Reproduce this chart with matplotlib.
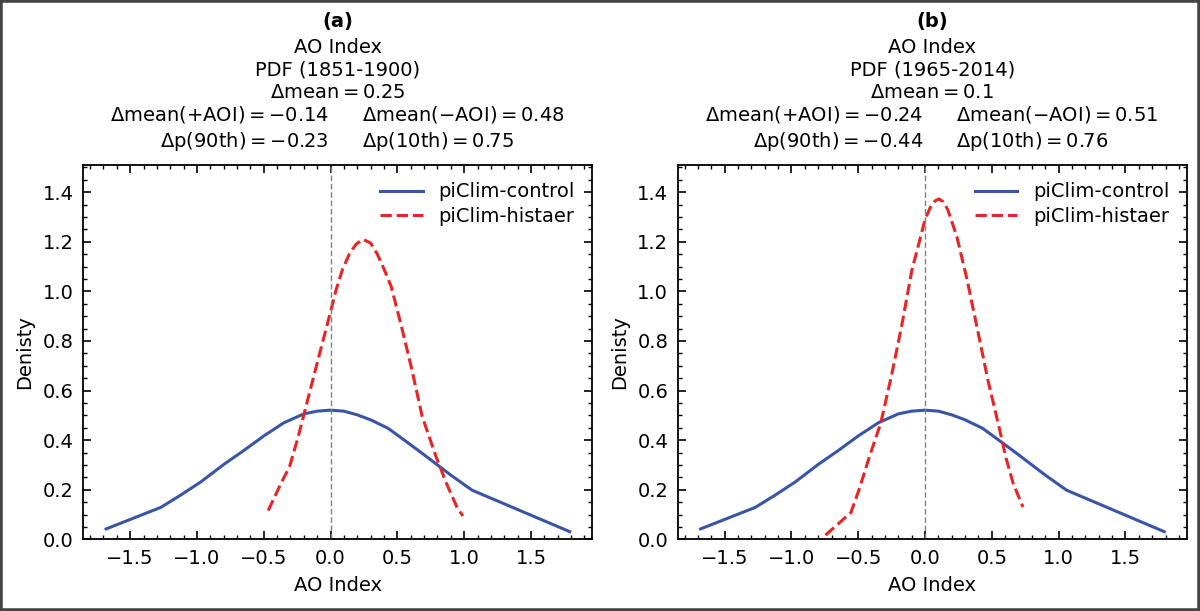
import matplotlib
matplotlib.use("Agg")
import matplotlib.pyplot as plt
from matplotlib.patches import Rectangle
from matplotlib.ticker import MultipleLocator

# ---- data ----
ctrl_x = [-1.68, -1.27, -1.12, -0.97, -0.80, -0.65, -0.50, -0.35, -0.20, -0.10,
          0.00, 0.10, 0.20, 0.30, 0.43, 0.57, 0.70, 0.90, 1.06, 1.79]
ctrl_y = [0.042, 0.129, 0.179, 0.232, 0.302, 0.358, 0.417, 0.470, 0.506, 0.517,
          0.521, 0.517, 0.502, 0.482, 0.448, 0.393, 0.341, 0.259, 0.198, 0.031]

hist_a_x = [-0.467, -0.371, -0.307, -0.242, -0.165, -0.088, 0.000, 0.041, 0.090, 0.140,
            0.190, 0.242, 0.300, 0.350, 0.400, 0.454, 0.531, 0.609, 0.686, 0.789,
            0.867, 0.944, 0.990]
hist_a_y = [0.116, 0.226, 0.293, 0.414, 0.576, 0.737, 0.918, 1.006, 1.090, 1.150,
            1.190, 1.210, 1.195, 1.150, 1.090, 1.019, 0.858, 0.683, 0.495, 0.334,
            0.226, 0.132, 0.094]

hist_b_x = [-0.745, -0.555, -0.495, -0.408, -0.331, -0.253, -0.176, -0.098, -0.046, 0.000,
            0.040, 0.075, 0.103, 0.135, 0.170, 0.238, 0.315, 0.393, 0.470, 0.555,
            0.605, 0.660, 0.733]
hist_b_y = [0.017, 0.108, 0.199, 0.347, 0.470, 0.656, 0.858, 1.087, 1.194, 1.290,
            1.340, 1.365, 1.373, 1.362, 1.330, 1.221, 1.046, 0.845, 0.643, 0.450,
            0.330, 0.225, 0.130]

panel_labels = ["(a)", "(b)"]
periods = ["PDF (1851-1900)", "PDF (1965-2014)"]
dmean = ["0.25", "0.1"]
dmean_pos = ["-0.14", "-0.24"]
dmean_neg = ["0.48", "0.51"]
dp90 = ["-0.23", "-0.44"]
dp10 = ["0.75", "0.76"]
legend_labels = ["piClim-control", "piClim-histaer"]

BLUE = "#3a54a6"
RED = "#e82424"

plt.rcParams["font.family"] = ["DejaVu Sans"]
plt.rcParams["font.size"] = 14
plt.rcParams["mathtext.fontset"] = "dejavusans"

fig = plt.figure(figsize=(12, 6.11), dpi=100)
fig.patch.set_facecolor("white")

axes_left = [0.0695, 0.5649]
hist_x = [hist_a_x, hist_b_x]
hist_y = [hist_a_y, hist_b_y]

for i in range(2):
    ax = fig.add_axes([axes_left[i], 0.1173, 0.4242, 0.6127])
    ax.plot(ctrl_x, ctrl_y, color=BLUE, lw=2.2, label=legend_labels[0])
    ax.plot(hist_x[i], hist_y[i], color=RED, lw=2.2, ls="--", label=legend_labels[1])
    ax.axvline(0, color="gray", lw=1.0, ls="--", dashes=(4, 2))
    ax.set_xlim(-1.85, 1.96)
    ax.set_ylim(0, 1.51)
    ax.xaxis.set_major_locator(MultipleLocator(0.5))
    ax.xaxis.set_minor_locator(MultipleLocator(0.1))
    ax.yaxis.set_major_locator(MultipleLocator(0.2))
    ax.yaxis.set_minor_locator(MultipleLocator(0.05))
    ax.tick_params(which="both", direction="in", top=True, right=True)
    ax.tick_params(which="major", length=6, width=1.2, pad=7)
    ax.tick_params(which="minor", length=3, width=1.0)
    for s in ax.spines.values():
        s.set_linewidth(1.3)
    ax.set_xlabel("AO Index", labelpad=6)
    ax.set_ylabel("Denisty", labelpad=6)
    ax.legend(loc="upper right", frameon=False, handlelength=2.2,
              labelspacing=0.3, borderaxespad=0.5)

    tr = ax.transAxes
    ax.text(0.5, 1.368, panel_labels[i], transform=tr, ha="center", va="baseline",
            fontweight="bold")
    ax.text(0.5, 1.298, "AO Index", transform=tr, ha="center", va="baseline")
    ax.text(0.5, 1.238, periods[i], transform=tr, ha="center", va="baseline")
    ax.text(0.5, 1.178, r"$\Delta$mean$=%s$" % dmean[i], transform=tr,
            ha="center", va="baseline")
    ax.text(0.482, 1.118, r"$\Delta$mean(+AOI)$=%s$" % dmean_pos[i], transform=tr,
            ha="right", va="baseline")
    ax.text(0.547, 1.118, r"$\Delta$mean($-$AOI)$=%s$" % dmean_neg[i], transform=tr,
            ha="left", va="baseline")
    ax.text(0.482, 1.047, r"$\Delta$p(90th)$=%s$" % dp90[i], transform=tr,
            ha="right", va="baseline")
    ax.text(0.547, 1.047, r"$\Delta$p(10th)$=%s$" % dp10[i], transform=tr,
            ha="left", va="baseline")

fig.add_artist(Rectangle((0, 0), 1, 1, transform=fig.transFigure, fill=False,
                         edgecolor="#444444", lw=4))

fig.savefig("out.png", dpi=100)
